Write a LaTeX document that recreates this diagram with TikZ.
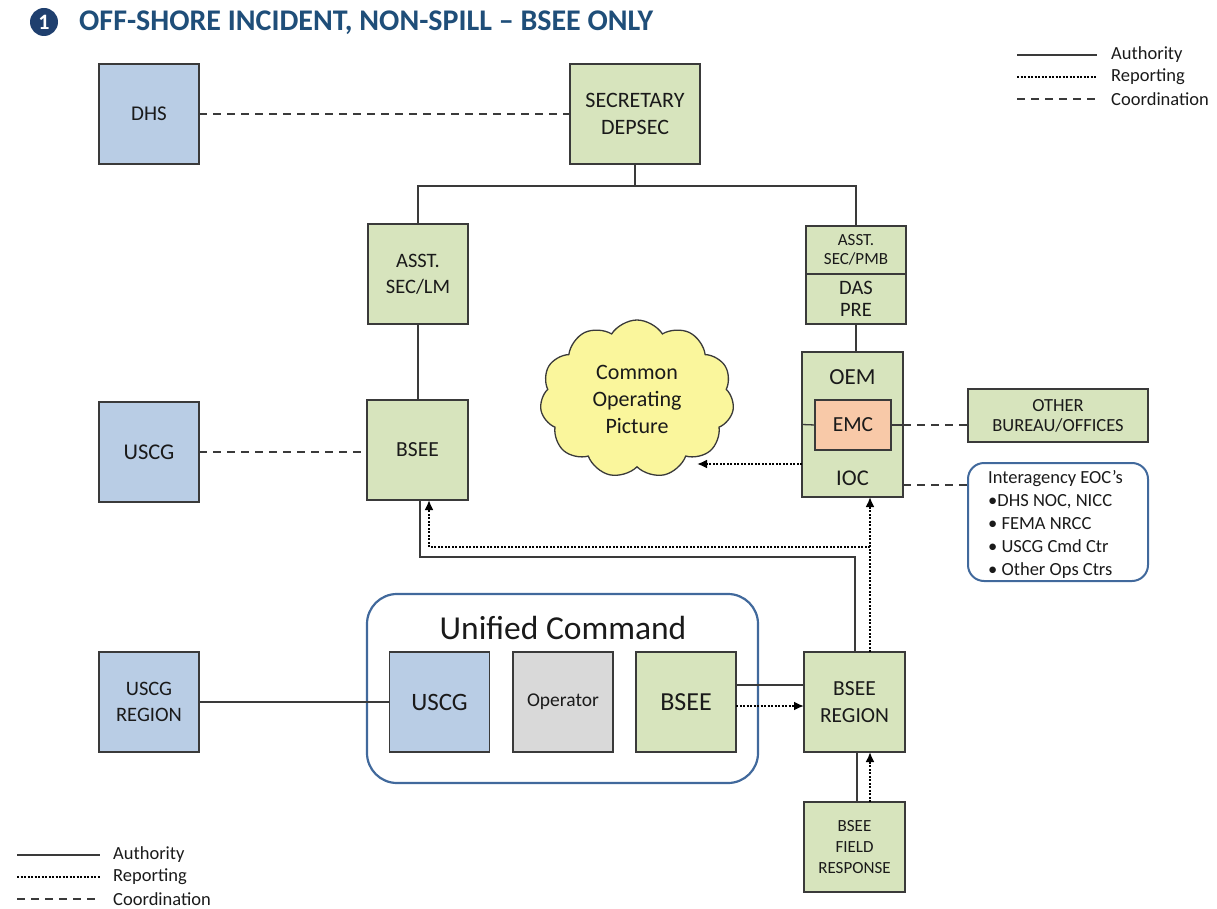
\documentclass[tikz,border=0pt]{standalone}
\usepackage{fontspec}
\setmainfont{Carlito}
\usetikzlibrary{shapes.symbols,arrows.meta,calc}
\definecolor{gfill}{HTML}{D7E4BD}
\definecolor{bfill}{HTML}{B9CDE5}
\definecolor{grfill}{HTML}{D9D9D9}
\definecolor{pfill}{HTML}{F8C9A8}
\definecolor{cfill}{HTML}{FAF69C}
\definecolor{bord}{HTML}{3A3A3A}
\definecolor{ublue}{HTML}{41699C}
\definecolor{navy}{HTML}{1F3F6E}
\definecolor{ttl}{HTML}{1F4E79}
\definecolor{txt}{HTML}{1A1A1A}
\newcommand{\fsz}[1]{\fontsize{#1}{1.25\dimexpr#1pt\relax}\selectfont}
\tikzset{
  box/.style={draw=bord, line width=1.3pt, inner sep=0pt, outer sep=0pt, align=center, text=txt},
  gbox/.style={box, fill=gfill},
  bbox/.style={box, fill=bfill},
  auth/.style={draw=bord, line width=1.3pt},
  coord/.style={draw=bord, line width=1.6pt, dash pattern=on 8pt off 6pt},
  rep/.style={draw=black, line width=2.2pt, dash pattern=on 2pt off 1.5pt},
  reparrow/.style={rep, -{Latex[length=10pt,width=9pt]}},
  legtxt/.style={anchor=west, inner sep=0pt, font=\fsz{18.5}, text=txt},
  lbl/.style={inner sep=0pt, text=txt, align=center}
}
\begin{document}
\begin{tikzpicture}[x=1pt,y=-1pt]
\useasboundingbox (0,0) rectangle (1217,909);
% title
\node[circle, fill=navy, minimum size=28pt, inner sep=0pt, text=white, font=\bfseries\fsz{22}] (num) at (44,22) {1};
\node[anchor=west, inner sep=0pt, text=ttl, font=\bfseries\fsz{30}] (title) at (79,23) {OFF-SHORE INCIDENT, NON-SPILL -- BSEE ONLY};
% legend top right
\coordinate (la1) at (1017,55); \coordinate (lb1) at (1097,55);
\coordinate (la2) at (1017,77); \coordinate (lb2) at (1097,77);
\coordinate (la3) at (1017,99); \coordinate (lb3) at (1097,99);
\draw[auth] (la1) -- (lb1);
\draw[rep] (la2) -- (lb2);
\draw[coord] (la3) -- (lb3);
\node[legtxt] (lt1) at (1111,55) {Authority};
\node[legtxt] (lt2) at (1111,77) {Reporting};
\node[legtxt] (lt3) at (1111,99) {Coordination};
% legend bottom left
\coordinate (ma1) at (17,855); \coordinate (mb1) at (100,855);
\coordinate (ma2) at (17,877); \coordinate (mb2) at (100,877);
\coordinate (ma3) at (17,899); \coordinate (mb3) at (100,899);
\draw[auth] (ma1) -- (mb1);
\draw[rep] (ma2) -- (mb2);
\draw[coord] (ma3) -- (mb3);
\node[legtxt] (mt1) at (113,855) {Authority};
\node[legtxt] (mt2) at (113,877) {Reporting};
\node[legtxt] (mt3) at (113,899) {Coordination};
% top row
\node[bbox, minimum width=100pt, minimum height=100pt, font=\fsz{21}] (dhs) at (149,114) {DHS};
\node[gbox, minimum width=130pt, minimum height=100pt, font=\fsz{22}] (sec) at (635,114) {SECRETARY\\DEPSEC};
\node[gbox, minimum width=100pt, minimum height=100pt, font=\fsz{20.5}] (asstlm) at (418,274) {ASST.\\SEC/LM};
\node[gbox, minimum width=100pt, minimum height=48pt, font=\fsz{17}] (pmb) at (856,250) {ASST.\\[-2pt]SEC/PMB};
\node[gbox, minimum width=100pt, minimum height=50pt, font=\fsz{20.5}] (das) at (856,299) {DAS\\[-3pt]PRE};
% OEM group
\node[gbox, minimum width=101pt, minimum height=145pt] (oem) at (852.5,424.5) {};
\node[lbl, font=\fsz{23}] (oemt) at (852.5,377) {OEM};
\node[lbl, font=\fsz{22.5}] (ioct) at (852.5,478) {IOC};
\node[box, fill=pfill, minimum width=76pt, minimum height=50pt, font=\fsz{21.5}] (emc) at (853,425) {EMC};
\node[gbox, minimum width=180pt, minimum height=53pt, font=\fsz{18.5}] (other) at (1058,415.5) {OTHER\\[-3pt]BUREAU/OFFICES};
\node[draw=ublue, line width=2pt, rounded corners=16pt, minimum width=180pt, minimum height=118pt, inner sep=0pt, outer sep=0pt] (inter) at (1058,522) {};
\node[anchor=north west, inner sep=0pt, align=left, text=txt, font=\fontsize{18.5}{23}\selectfont] (intert) at (988,470) {Interagency EOC's\\\textbullet DHS NOC, NICC\\\textbullet\ FEMA NRCC\\\textbullet\ USCG Cmd Ctr\\\textbullet\ Other Ops Ctrs};
% cloud
\node[cloud, draw=bord, line width=1.3pt, fill=cfill, cloud puffs=11, cloud puff arc=115, aspect=1.25, minimum width=194pt, minimum height=158pt, inner sep=0pt, align=center, text=txt, font=\fontsize{22}{27}\selectfont] (cop) at (637,399) {Common\\Operating\\Picture};
% middle row
\node[bbox, minimum width=100pt, minimum height=100pt, font=\fsz{22.5}] (uscg) at (149,452) {USCG};
\node[gbox, minimum width=101pt, minimum height=100pt, font=\fsz{21.5}] (bsee) at (417.5,450) {BSEE};
% unified command
\node[draw=ublue, line width=2.2pt, rounded corners=30pt, minimum width=391pt, minimum height=189pt, inner sep=0pt, outer sep=0pt] (uc) at (562.5,688.5) {};
\node[lbl, font=\fsz{33.5}] (uct) at (563,628) {Unified Command};
\node[bbox, minimum width=100pt, minimum height=100pt, font=\fsz{25}] (ucuscg) at (439.5,702) {USCG};
\node[box, fill=grfill, minimum width=100pt, minimum height=100pt, font=\fsz{19.5}] (ucop) at (563,702) {Operator};
\node[gbox, minimum width=100pt, minimum height=100pt, font=\fsz{26}] (ucbsee) at (686,702) {BSEE};
\node[bbox, minimum width=100pt, minimum height=100pt, font=\fsz{20.5}] (uscgreg) at (149,702) {USCG\\REGION};
\node[gbox, minimum width=101pt, minimum height=100pt, font=\fsz{21.5}] (breg) at (854.5,702) {BSEE\\REGION};
\node[gbox, minimum width=101pt, minimum height=90pt, font=\fsz{17}] (field) at (854.5,847) {BSEE\\FIELD\\RESPONSE};
% connectors: coordination
\draw[coord] (dhs.east) -- (sec.west);
\draw[coord] (uscg.east) -- (uscg.east -| bsee.west);
\draw[auth] (emc.east) -- (emc.east -| oem.east);
\draw[coord] (emc.east -| oem.east) -- (emc.east -| other.west);
\coordinate (iocr) at (903,485);
\draw[coord] (iocr) -- (iocr -| inter.west);
% authority
\coordinate (j1) at (635,186);
\draw[auth] (sec.south) -- (j1);
\draw[auth] (asstlm.north) |- (j1) -| (pmb.north);
\draw[auth] (asstlm.south) -- (asstlm.south |- bsee.north);
\draw[auth] (das.south) -- (das.south |- oem.north);
\draw[auth] (oem.west) -- (emc.west);
\coordinate (bs1) at (420,500);
\coordinate (bs2) at (420,557);
\coordinate (br1) at (855,652);
\draw[auth] (bs1) -- (bs2) -| (br1);
\draw[auth] (uscgreg.east) -- (ucuscg.west);
\coordinate (ucb1) at (735,685);
\draw[auth] (ucb1) -- (ucb1 -| breg.west);
\coordinate (fr1) at (857,802);
\draw[auth] (fr1) -- (fr1 |- breg.south);
% reporting
\coordinate (r1) at (870,652);
\coordinate (r2) at (870,547);
\coordinate (r3) at (429,547);
\coordinate (r4) at (429,500);
\coordinate (r5) at (870,497);
\draw[reparrow] (r1) -- (r5);
\draw[reparrow] (r2) -- (r3) -- (r4);
\coordinate (oemw) at (802,464);
\coordinate (copin) at (697,464);
\draw[reparrow] (oemw) -- (copin);
\coordinate (ucb2) at (736,706);
\draw[reparrow] (ucb2) -- (ucb2 -| breg.west);
\coordinate (fr2) at (870,802);
\draw[reparrow] (fr2) -- (fr2 |- breg.south);
\end{tikzpicture}
\end{document}
